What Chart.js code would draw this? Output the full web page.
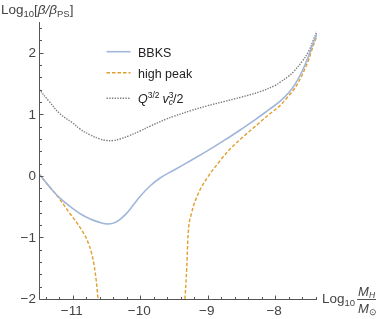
<!DOCTYPE html>
<html>
<head>
  <meta charset="UTF-8">
  <title>beta ratio</title>
  <script src="https://cdn.jsdelivr.net/npm/chart.js"></script>
  <style>
    body { margin: 0; background: #fff; }
    canvas { display: block; }
  </style>
</head>
<body>
  <canvas id="chart" width="382" height="319"></canvas>
  <script>
    // data (log10 M_H/M_sun  ->  log10 beta/beta_PS)
    const bbksX = [-11.5, -11.35, -11.19, -11.0, -10.89, -10.75, -10.6, -10.5, -10.42, -10.34, -10.22, -10.1, -10.0, -9.85, -9.7, -9.49, -9.25, -9.0, -8.75, -8.5, -8.3, -8.1, -7.93, -7.8, -7.7, -7.6, -7.5, -7.44, -7.38];
    const bbksY = [0.03, -0.17, -0.36, -0.53, -0.615, -0.695, -0.755, -0.78, -0.775, -0.74, -0.63, -0.47, -0.33, -0.16, -0.03, 0.10, 0.25, 0.41, 0.58, 0.76, 0.91, 1.07, 1.21, 1.35, 1.50, 1.70, 1.96, 2.15, 2.31];

    // high peak: two branches, both run off the bottom of the frame
    const peakLeftX = [-11.5, -11.35, -11.2, -11.05, -10.94, -10.85, -10.78, -10.72, -10.68, -10.65, -10.625];
    const peakLeftY = [0.03, -0.17, -0.37, -0.6, -0.76, -0.91, -1.06, -1.26, -1.47, -1.72, -2.0];
    const peakRightX = [-9.337, -9.32, -9.31, -9.29, -9.24, -9.14, -9.0, -8.85, -8.7, -8.5, -8.3, -8.1, -7.93, -7.8, -7.7, -7.6, -7.5, -7.44, -7.38];
    const peakRightY = [-2.0, -1.7, -1.48, -0.95, -0.61, -0.29, -0.02, 0.2, 0.4, 0.61, 0.80, 0.99, 1.14, 1.30, 1.44, 1.64, 1.90, 2.10, 2.28];

    const qvX = [-11.5, -11.35, -11.19, -11.0, -10.89, -10.75, -10.6, -10.5, -10.4, -10.3, -10.17, -10.0, -9.85, -9.62, -9.5, -9.25, -9.0, -8.75, -8.5, -8.22, -8.0, -7.93, -7.8, -7.73, -7.6, -7.5, -7.44, -7.38];
    const qvY = [1.41, 1.21, 1.01, 0.86, 0.76, 0.67, 0.60, 0.575, 0.575, 0.60, 0.65, 0.73, 0.81, 0.92, 0.97, 1.06, 1.14, 1.21, 1.28, 1.37, 1.47, 1.52, 1.62, 1.69, 1.86, 2.03, 2.19, 2.35];

    const xTicks = [-11, -10, -9, -8];
    const yTicks = [-2, -1, 0, 1, 2];
    const xRange = [-11.5, -7.38];
    const yRange = [-2, 2.5];
    const minorStep = 0.2;

    const FONT = '"Liberation Sans", Arial, sans-serif';
    const axisColor = '#555';
    const labelColor = '#444';

    function pts(xs, ys) {
      return xs.map((x, i) => ({ x: x, y: ys[i] }));
    }

    // draw a row of text pieces (for sub/superscripts)
    function rich(ctx, x, y, parts) {
      for (const p of parts) {
        ctx.font = (p.it ? 'italic ' : '') + p.s + 'px ' + FONT;
        ctx.fillText(p.t, x, y + (p.dy || 0));
        if (!p.stay) x += ctx.measureText(p.t).width + (p.gap || 0);
      }
      return x;
    }

    function minorValues(lo, hi, majors) {
      const out = [];
      for (let v = Math.ceil(lo / minorStep) * minorStep; v <= hi + 1e-9; v += minorStep) {
        const r = Math.round(v * 10) / 10;
        if (!majors.some(m => Math.abs(m - r) < 1e-6)) out.push(r);
      }
      return out;
    }

    const frame = {
      id: 'frame',
      afterDatasetsDraw(chart) {
        const { ctx, chartArea: a, scales: { x, y } } = chart;
        const ax = Math.round(x.getPixelForValue(xRange[0])) + 0.5;
        const ay = Math.round(y.getPixelForValue(yRange[0])) + 0.5;
        ctx.save();
        ctx.strokeStyle = axisColor;
        ctx.lineWidth = 1;
        ctx.beginPath();
        ctx.moveTo(ax, a.top);
        ctx.lineTo(ax, ay);
        ctx.lineTo(a.right, ay);
        ctx.stroke();

        // ticks point into the plot
        ctx.beginPath();
        yTicks.forEach(v => { const p = Math.round(y.getPixelForValue(v)) + 0.5; ctx.moveTo(ax, p); ctx.lineTo(ax + 4, p); });
        minorValues(yRange[0], yRange[1], yTicks).forEach(v => { const p = Math.round(y.getPixelForValue(v)) + 0.5; ctx.moveTo(ax, p); ctx.lineTo(ax + 2.5, p); });
        xTicks.forEach(v => { const p = Math.round(x.getPixelForValue(v)) + 0.5; ctx.moveTo(p, ay); ctx.lineTo(p, ay - 4); });
        minorValues(xRange[0], xRange[1], xTicks).forEach(v => { const p = Math.round(x.getPixelForValue(v)) + 0.5; ctx.moveTo(p, ay); ctx.lineTo(p, ay - 2.5); });
        ctx.stroke();

        const fmt = v => (v < 0 ? '\u2212' + Math.abs(v) : String(v));
        ctx.fillStyle = labelColor;
        ctx.font = '13.5px ' + FONT;
        ctx.textAlign = 'right';
        ctx.textBaseline = 'middle';
        yTicks.forEach(v => ctx.fillText(fmt(v), ax - 3.5, y.getPixelForValue(v) + 0.5));
        ctx.textAlign = 'center';
        ctx.textBaseline = 'alphabetic';
        xTicks.forEach(v => ctx.fillText(fmt(v), x.getPixelForValue(v) - 1, ay + 15.5));

        // axis titles
        ctx.textAlign = 'left';
        rich(ctx, 1, 13.5, [
          { t: 'Log', s: 13.5 }, { t: '10', s: 9.5, dy: 3 }, { t: '[', s: 13.5 },
          { t: '\u03b2/\u03b2', s: 13.5, it: true }, { t: 'PS', s: 9.5, dy: 3 }, { t: ']', s: 13.5 }
        ]);
        const fx = rich(ctx, 322, ay + 3, [{ t: 'Log', s: 13.5 }, { t: '10', s: 9.5, dy: 3, gap: 2 }]);
        const numEnd = rich(ctx, fx + 1, ay - 4, [{ t: 'M', s: 13, it: true }, { t: 'H', s: 8.5, it: true, dy: 2 }]);
        rich(ctx, fx + 1, ay + 13.5, [{ t: 'M', s: 13, it: true }, { t: '\u2299', s: 8.5, dy: 2 }]);
        ctx.beginPath();
        ctx.moveTo(fx, ay);
        ctx.lineTo(numEnd + 1, ay);
        ctx.stroke();

        // legend inside the plot
        const rows = [51.7, 72.7, 98.3];
        chart.data.datasets.forEach((ds, i) => {
          ctx.strokeStyle = ds.borderColor;
          ctx.lineWidth = ds.borderWidth;
          ctx.setLineDash(ds.borderDash || []);
          ctx.beginPath();
          ctx.moveTo(106.5, rows[i]);
          ctx.lineTo(130.5, rows[i]);
          ctx.stroke();
        });
        ctx.setLineDash([]);
        ctx.fillStyle = '#222';
        rich(ctx, 138, 56.7, [{ t: chart.data.datasets[0].label, s: 12.5 }]);
        rich(ctx, 138, 77.5, [{ t: chart.data.datasets[1].label, s: 12.5 }]);
        rich(ctx, 138, 102.5, [
          { t: 'Q', s: 12.5, it: true }, { t: '3/2', s: 8.5, dy: -5, gap: 3 },
          { t: 'v', s: 12.5, it: true }, { t: '3', s: 8.5, dy: -5, stay: true }, { t: 'c', s: 8.5, it: true, dy: 2.5 },
          { t: '/2', s: 12.5 }
        ]);
        ctx.restore();
      }
    };

    new Chart(document.getElementById('chart'), {
      type: 'line',
      data: {
        datasets: [
          {
            label: 'BBKS',
            data: pts(bbksX, bbksY),
            borderColor: 'rgb(160, 182, 218)',
            borderWidth: 1.6,
            cubicInterpolationMode: 'default',
            tension: 0.4
          },
          {
            label: 'high peak',
            data: pts(peakLeftX, peakLeftY).concat([{ x: -10, y: null }], pts(peakRightX, peakRightY)),
            borderColor: 'rgb(226, 158, 45)',
            borderWidth: 1.4,
            borderDash: [3.5, 2],
            cubicInterpolationMode: 'monotone'
          },
          {
            label: 'Q^{3/2} v_c^3/2',
            data: pts(qvX, qvY),
            borderColor: 'rgb(125, 125, 125)',
            borderWidth: 1.4,
            borderDash: [1.4, 1.3],
            cubicInterpolationMode: 'default',
            tension: 0.4
          }
        ]
      },
      options: {
        responsive: false,
        animation: false,
        devicePixelRatio: 1,
        layout: { padding: { left: 39, right: 65, top: 22, bottom: 20 } },
        elements: { point: { radius: 0 }, line: { fill: false } },
        spanGaps: false,
        scales: {
          x: { type: 'linear', display: false, min: xRange[0], max: xRange[1] },
          y: { type: 'linear', display: false, min: yRange[0], max: yRange[1] }
        },
        plugins: { legend: { display: false }, tooltip: { enabled: false } }
      },
      plugins: [frame]
    });
  </script>
</body>
</html>
